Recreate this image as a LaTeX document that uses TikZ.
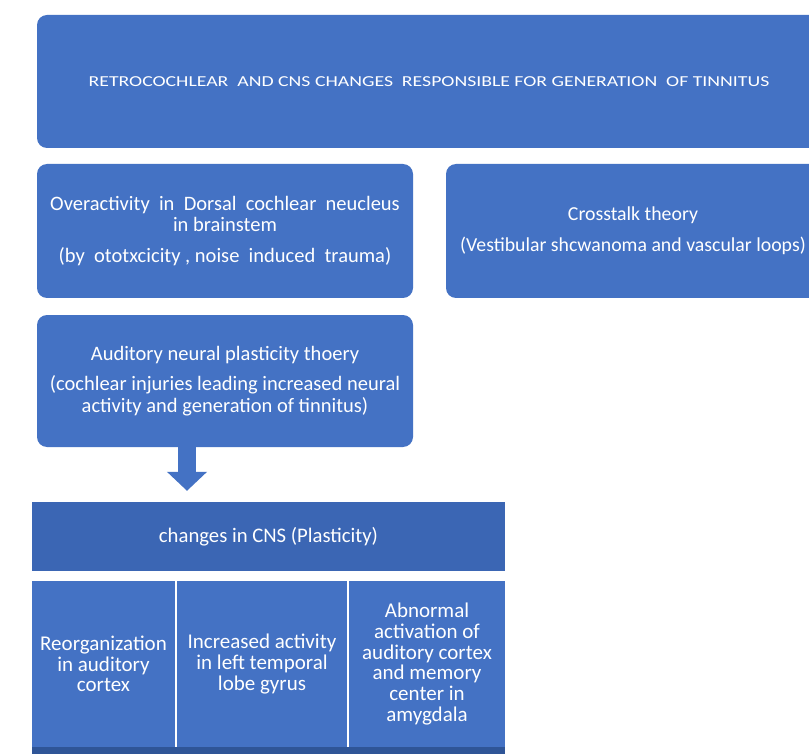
\documentclass[tikz,border=0pt]{standalone}
\usepackage{fontspec}
\setmainfont{Carlito}
\newfontfamily\titlefont{Carlito}[FakeStretch=1.3]
\usetikzlibrary{arrows.meta}
\definecolor{boxblue}{HTML}{4472C4}
\definecolor{hdrblue}{HTML}{3B66B4}
\definecolor{stripblue}{HTML}{2F5597}
\tikzset{
  rbox/.style={rectangle, rounded corners=10pt, fill=boxblue, text=white, align=center,
    inner sep=0pt, font=\fontsize{20.5}{21.8}\selectfont},
  cellbox/.style={rectangle, fill=boxblue, text=white, align=center, inner sep=0pt,
    font=\fontsize{21}{20.8}\selectfont},
  hdrbox/.style={rectangle, fill=hdrblue, text=white, align=center, inner sep=0pt,
    font=\fontsize{20.7}{22}\selectfont},
  bigarrow/.style={draw=boxblue, line width=18pt, -{Triangle[width=39pt,length=19pt]}, shorten >=11pt}
}
\begin{document}
\begin{tikzpicture}[x=1pt,y=-1pt]
\useasboundingbox (0,0) rectangle (809,754);
\clip (0,0) rectangle (809,754);
\fill[white] (0,0) rectangle (809,754);
% top title
\node[rbox, minimum width=784pt, minimum height=133pt, font=\titlefont\fontsize{15.2}{16}\selectfont] (title) at (429,81.5)
  {RETROCOCHLEAR\ \ AND CNS CHANGES\ \ RESPONSIBLE FOR GENERATION\ \ OF TINNITUS};
% second row
\node[rbox, minimum width=376pt, minimum height=134pt] (boxA) at (225,231)
  {Overactivity\ \ in\ \ Dorsal\ \ cochlear\ \ neucleus\\ in brainstem\\[9pt] (by\ \ ototxcicity , noise\ \ induced\ \ trauma)};
\node[rbox, minimum width=374pt, minimum height=134pt, font=\fontsize{19.8}{21.8}\selectfont] (boxB) at (633,231)
  {Crosstalk theory\\[9pt] (Vestibular shcwanoma and vascular loops)};
% third row
\node[rbox, minimum width=376pt, minimum height=132pt] (boxC) at (225,381)
  {Auditory neural plasticity thoery\\[8pt] (cochlear injuries leading increased neural\\ activity and generation of tinnitus)};
% table
\node[hdrbox, minimum width=473pt, minimum height=69pt] (hdr) at (268.5,536.5)
  {changes in CNS (Plasticity)};
\node[cellbox, minimum width=143pt, minimum height=166pt] (c1) at (103.5,664)
  {Reorganization\\ in auditory\\ cortex};
\node[cellbox, minimum width=170pt, minimum height=166pt] (c2) at (262,664)
  {Increased activity\\ in left temporal\\ lobe gyrus};
\node[cellbox, minimum width=156pt, minimum height=166pt] (c3) at (427,664)
  {Abnormal\\ activation of\\ auditory cortex\\ and memory\\ center in\\ amygdala};
\fill[stripblue] (c1.south west) rectangle ([yshift=-20pt]c3.south east);
% arrow
\coordinate (ax) at (187,0);
\draw[bigarrow] (boxC.south -| ax) -- (hdr.north -| ax);
\end{tikzpicture}
\end{document}
